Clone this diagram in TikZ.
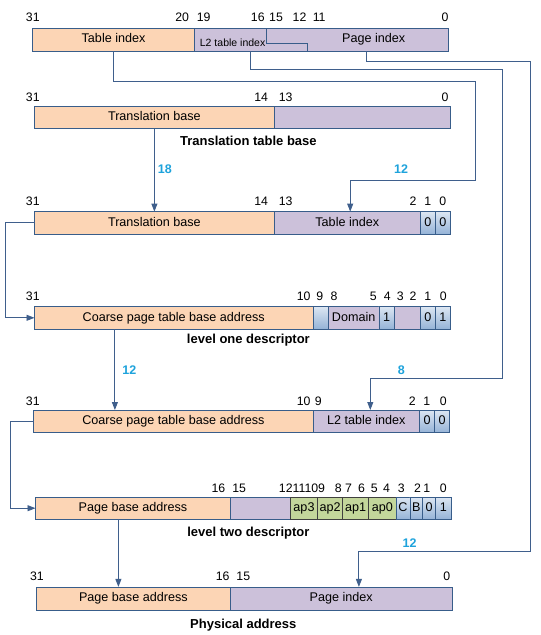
\documentclass[tikz,border=0pt]{standalone}
\usepackage{fontspec}
\setmainfont{Liberation Sans}
\usetikzlibrary{arrows.meta}
\definecolor{orng}{HTML}{FCD5B5}
\definecolor{purp}{HTML}{CCC1DA}
\definecolor{grn}{HTML}{C3D69B}
\definecolor{bdr}{HTML}{385D8A}
\definecolor{bltop}{HTML}{DCE6F2}
\definecolor{blbot}{HTML}{95B3D7}
\definecolor{cyanlbl}{HTML}{1EA3DC}
\definecolor{lnc}{HTML}{3F5F8C}
\tikzset{
 field/.style={draw=bdr, line width=0.8pt, inner sep=0pt, outer sep=0pt, font=\fontsize{12.6}{14}\selectfont, text height=9pt, text depth=2.5pt},
 orf/.style={fill=orng},
 puf/.style={fill=purp},
 grf/.style={fill=grn, draw=black!75},
 blf/.style={top color=bltop, bottom color=blbot},
 boxtext/.style={inner sep=0pt, font=\fontsize{12.6}{14}\selectfont, text height=9pt, text depth=2.5pt},
 bitlbl/.style={font=\fontsize{12.3}{14}\selectfont, inner sep=0pt, text height=8.8pt, text depth=0pt},
 numlbl/.style={font=\fontsize{12.5}{14}\selectfont\bfseries, text=cyanlbl, inner sep=0pt, text height=9pt, text depth=0pt},
 capt/.style={font=\fontsize{13}{15}\selectfont\bfseries, inner sep=0pt, anchor=base},
 conn/.style={draw=lnc, line width=0.9pt},
 arr/.style={conn, -{Triangle[length=8pt,width=6pt]}},
}
\newcommand\fld[7]{\node[field,#6,minimum width={(#3-#2)*1pt},minimum height={(#5-#4)*1pt}] (#1) at ({(#2+#3)/2},{(#4+#5)/2}) {#7};}
\newcounter{bitc}
\newcommand\bitl[3]{\stepcounter{bitc}\node[bitlbl] (bit\arabic{bitc}) at (#1,#2) {#3};}
\begin{document}
\begin{tikzpicture}[x=1pt,y=-1pt]
\fill[white] (0,0) rectangle (541,635);
\useasboundingbox (0,0) rectangle (541,635);

% Row 1: virtual address
\fld{T1}{32.8}{194.3}{28.3}{51.1}{orf}{Table index}
\fld{P1}{194.3}{448.6}{28.3}{51.1}{puf}{}
\draw[draw=bdr, line width=0.8pt] (266.7,28.3) -- (266.7,43.8) -- (307.1,43.8) -- (307.1,51.1);
\node[inner sep=0pt, font=\fontsize{10.5}{12}\selectfont, text height=7.5pt, text depth=0pt] (L2t) at (232.6,43.1) {L2 table index};
\node[boxtext] (PIt) at (373.7,39.7) {Page index};
\bitl{32.8}{16.6}{31}\bitl{182.2}{16.6}{20}\bitl{203.6}{16.6}{19}\bitl{257.8}{16.6}{16}
\bitl{276}{16.6}{15}\bitl{299.5}{16.6}{12}\bitl{319.2}{16.6}{11}\bitl{445.1}{16.6}{0}

% Row 2: translation table base
\fld{TB2}{34.5}{274.3}{106.4}{128.8}{orf}{Translation base}
\fld{E2}{274.3}{450.3}{106.4}{128.8}{puf}{}
\bitl{32.8}{97.1}{31}\bitl{261.2}{97.1}{14}\bitl{285.7}{97.1}{13}\bitl{445.1}{97.1}{0}
\node[capt] (cap1) at (248.4,145.9) {Translation table base};

% Row 3
\fld{TB3}{34.5}{274.3}{211.6}{234.1}{orf}{Translation base}
\fld{TI3}{274.3}{420.3}{211.6}{234.1}{puf}{Table index}
\fld{Z3a}{420.3}{435.5}{211.6}{234.1}{blf}{0}
\fld{Z3b}{435.5}{450.3}{211.6}{234.1}{blf}{0}
\bitl{32.8}{200.6}{31}\bitl{261.2}{200.6}{14}\bitl{285.7}{200.6}{13}
\bitl{413}{200.6}{2}\bitl{427.9}{200.6}{1}\bitl{442.7}{200.6}{0}

% Row 4: level one descriptor
\fld{C4}{34.5}{313}{306.6}{329}{orf}{Coarse page table base address}
\fld{B4a}{313}{328.5}{306.6}{329}{blf}{}
\fld{D4}{328.5}{378.9}{306.6}{329}{puf}{Domain}
\fld{B4b}{378.9}{394.4}{306.6}{329}{blf}{1}
\fld{P4}{394.4}{420.3}{306.6}{329}{puf}{}
\fld{B4c}{420.3}{435.5}{306.6}{329}{blf}{0}
\fld{B4d}{435.5}{450.3}{306.6}{329}{blf}{1}
\bitl{32.8}{296.2}{31}\bitl{303.7}{296.2}{10}\bitl{319.9}{296.2}{9}\bitl{334}{296.2}{8}
\bitl{373.4}{296.2}{5}\bitl{387.2}{296.2}{4}\bitl{400.3}{296.2}{3}\bitl{413}{296.2}{2}
\bitl{427.9}{296.2}{1}\bitl{443.4}{296.2}{0}
\node[capt] (cap2) at (248.4,343.6) {level one descriptor};

% Row 5
\fld{C5}{33.5}{313.3}{410}{432.8}{orf}{Coarse page table base address}
\fld{L5}{313.3}{419.3}{410}{432.8}{puf}{L2 table index}
\fld{Z5a}{419.3}{434.8}{410}{432.8}{blf}{0}
\fld{Z5b}{434.8}{449.6}{410}{432.8}{blf}{0}
\bitl{32.8}{401}{31}\bitl{303.7}{401}{10}\bitl{318.2}{401}{9}
\bitl{412.4}{401}{2}\bitl{426.8}{401}{1}\bitl{443.4}{401}{0}

% Row 6: level two descriptor
\fld{PB6}{35.5}{230.5}{497}{519.4}{orf}{Page base address}
\fld{Q6}{230.5}{290.5}{497}{519.4}{puf}{}
\fld{A3}{290.5}{317.5}{497}{519.4}{grf}{ap3}
\fld{A2}{317.5}{342.6}{497}{519.4}{grf}{ap2}
\fld{A1}{342.6}{368.5}{497}{519.4}{grf}{ap1}
\fld{A0}{368.5}{396.1}{497}{519.4}{grf}{ap0}
\fld{C6}{396.1}{409.9}{497}{519.4}{blf}{C}
\fld{B6}{409.9}{422.7}{497}{519.4}{blf}{B}
\fld{Z6a}{422.7}{435.5}{497}{519.4}{blf}{0}
\fld{Z6b}{435.5}{451.3}{497}{519.4}{blf}{1}
\bitl{218.4}{487.7}{16}\bitl{239.1}{487.7}{15}\bitl{302}{487.7}{1211109}
\bitl{338.2}{487.7}{8}\bitl{348.5}{487.7}{7}\bitl{361.6}{487.7}{6}\bitl{374.4}{487.7}{5}
\bitl{386.5}{487.7}{4}\bitl{401.3}{487.7}{3}\bitl{417.5}{487.7}{2}\bitl{426.8}{487.7}{1}
\bitl{443.4}{487.7}{0}
\node[capt] (cap3) at (248.4,536.4) {level two descriptor};

% Row 7: physical address
\fld{PB7}{36.2}{230.5}{586.9}{610}{orf}{Page base address}
\fld{PI7}{230.5}{452}{586.9}{610}{puf}{Page index}
\bitl{36.9}{575.9}{31}\bitl{222.6}{575.9}{16}\bitl{243.3}{575.9}{15}\bitl{446.9}{575.9}{0}
\node[capt] (cap4) at (243.3,628.6) {Physical address};

% bend coordinates
\coordinate (tA) at (475.2,81.8);
\coordinate (tB) at (350.2,180.6);
\coordinate (lA) at (250.2,69);
\coordinate (lB) at (502.1,378.3);
\coordinate (lC) at (370.3,378.3);
\coordinate (pA) at (366.5,61.4);
\coordinate (pB) at (530.4,551.7);
\coordinate (pC) at (358.9,551.7);
\coordinate (k1) at (5.2,0);
\coordinate (k2) at (10.4,0);
\coordinate (a1) at (114.9,0);
\coordinate (a2) at (118.4,0);

% connectors
\draw[arr] (T1.south) |- (tA) |- (tB) -- (tB |- TI3.north);
\draw[arr] (lA |- P1.south) -- (lA) -| (lB) -- (lC) -- (lC |- L5.north);
\draw[arr] (pA |- P1.south) -- (pA) -| (pB) -- (pC) -- (pC |- PI7.north);
\draw[arr] (TB2.south) -- (TB3.north);
\draw[arr] (TB3.west) -- (TB3.west -| k1) |- (C4.west);
\draw[arr] (a1 |- C4.south) -- (a1 |- C5.north);
\draw[arr] (C5.west) -- (C5.west -| k2) |- (PB6.west);
\draw[arr] (a2 |- PB6.south) -- (a2 |- PB7.north);

% width labels
\node[numlbl] (n18) at (164.9,168.9) {18};
\node[numlbl] (n12a) at (401,168.9) {12};
\node[numlbl] (n12b) at (129.4,369.7) {12};
\node[numlbl] (n8) at (401.3,369.7) {8};
\node[numlbl] (n12c) at (409.6,542.8) {12};
\end{tikzpicture}
\end{document}
